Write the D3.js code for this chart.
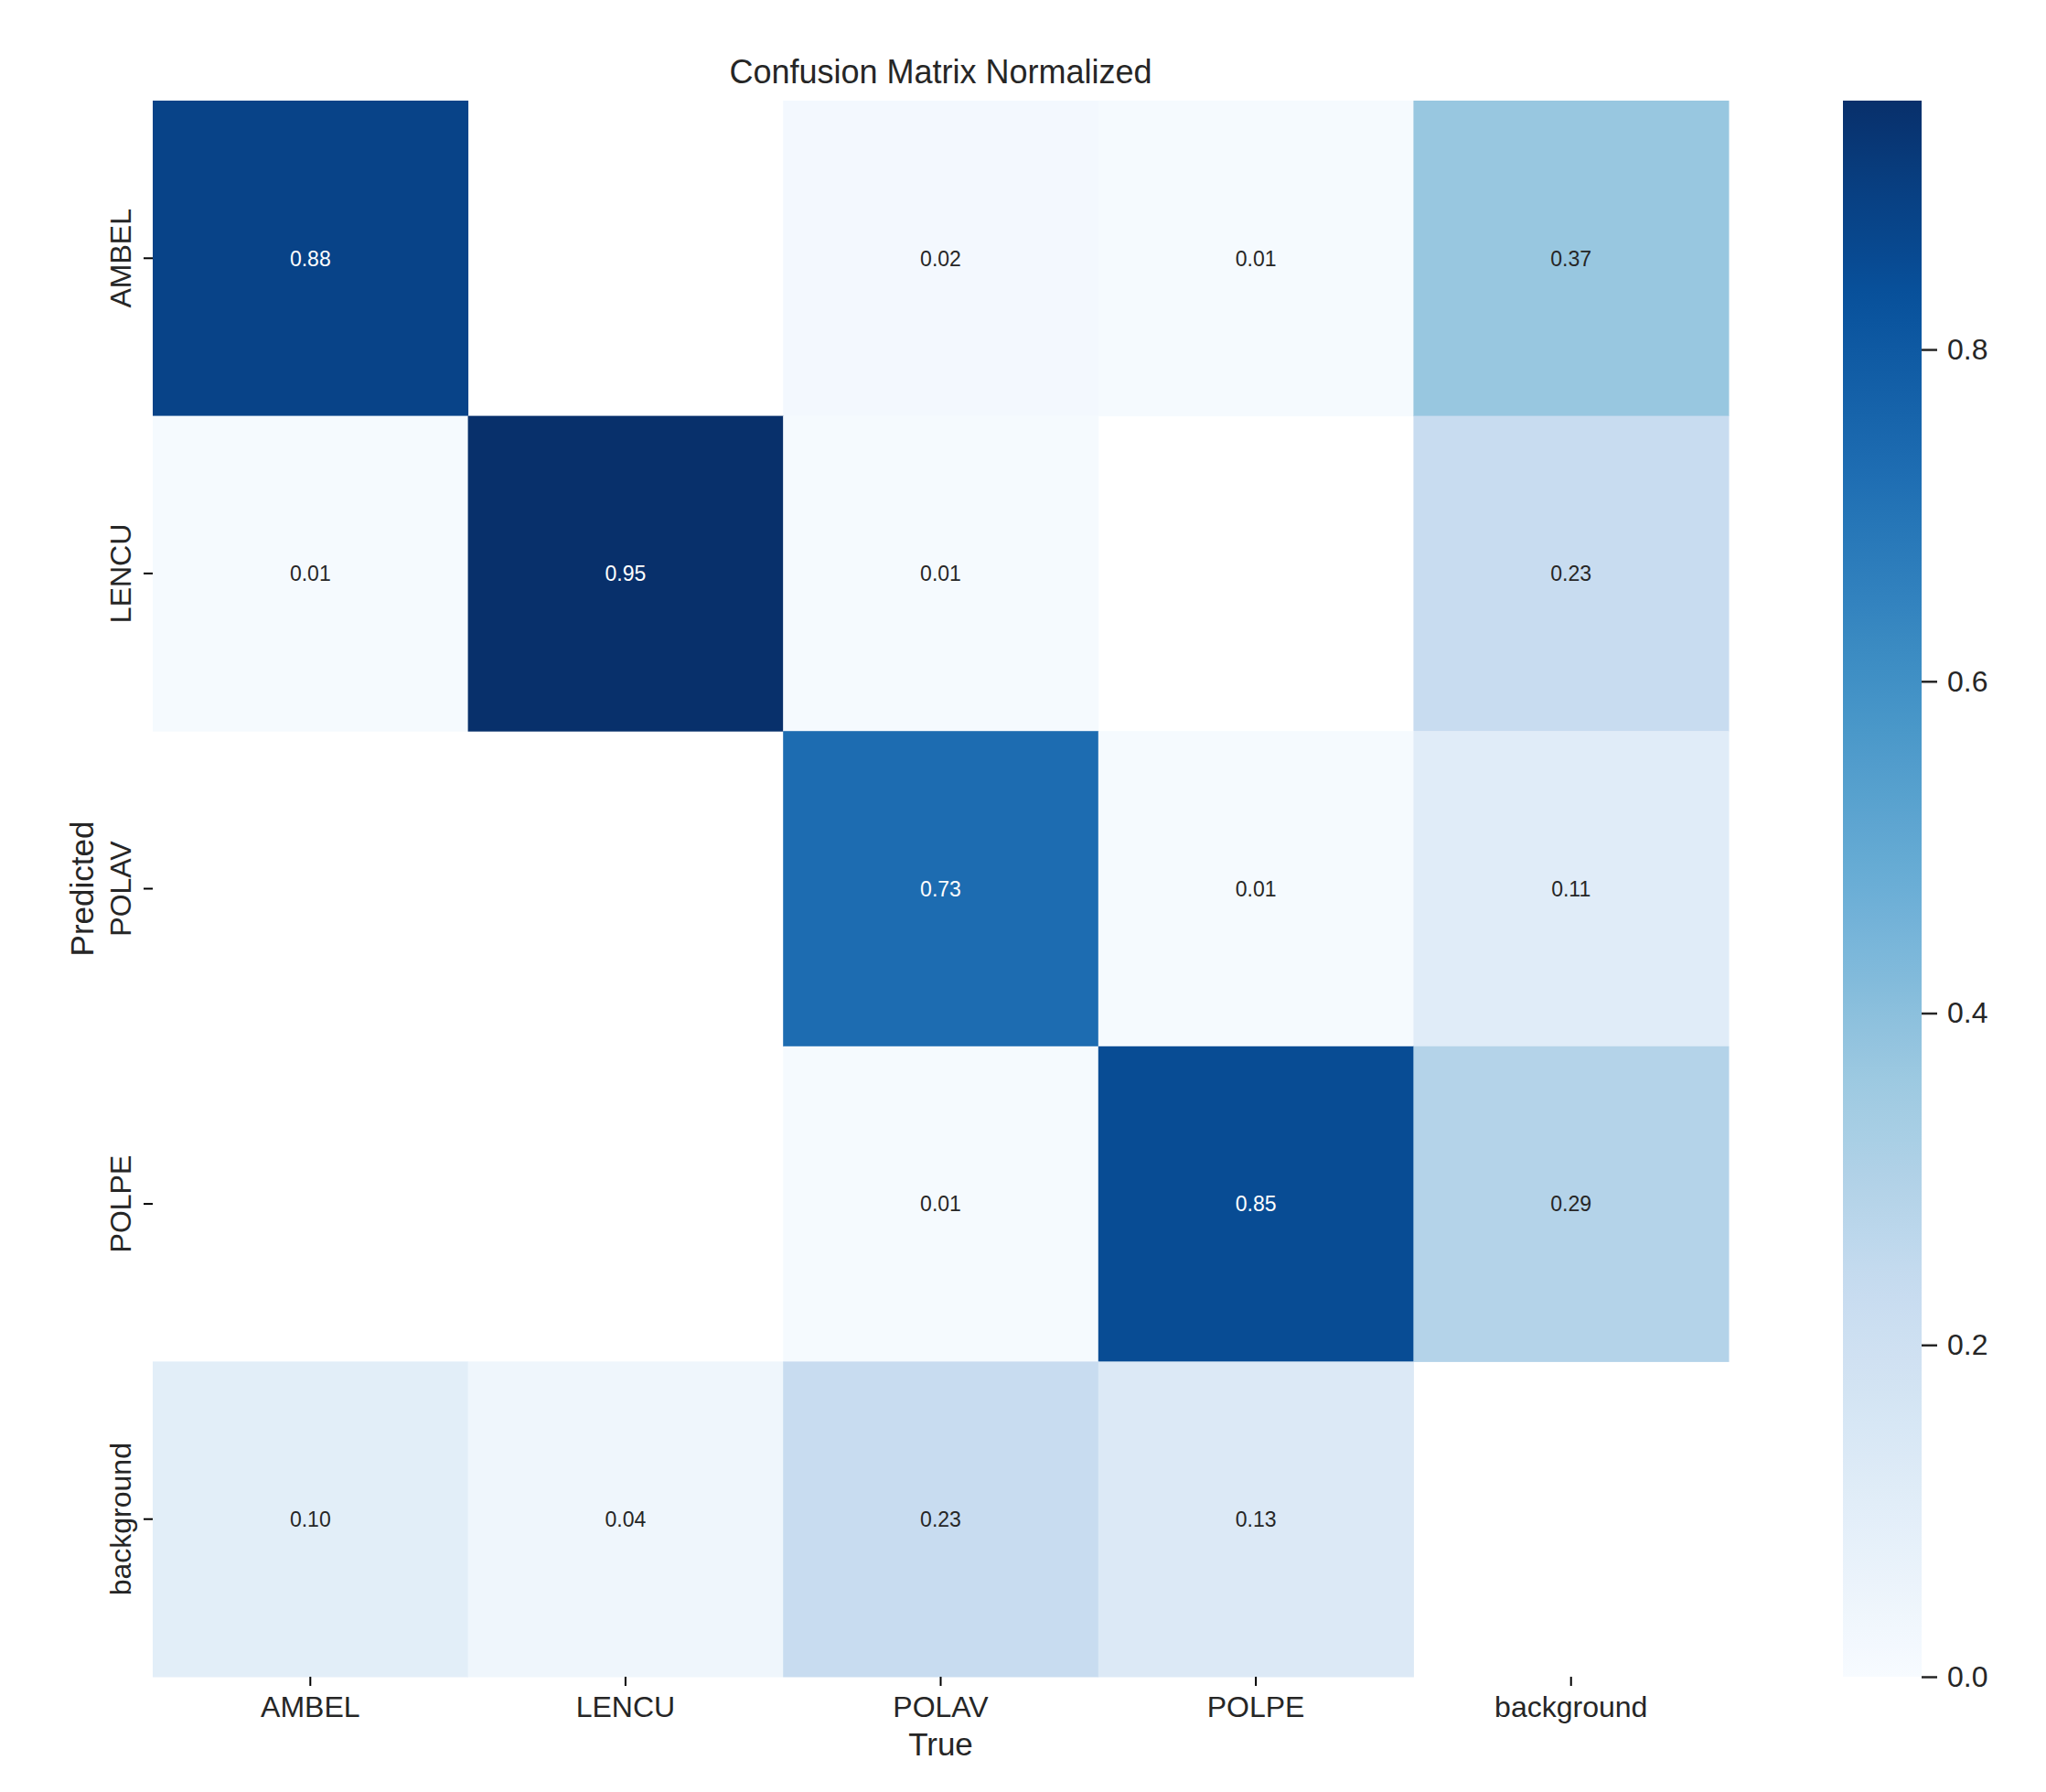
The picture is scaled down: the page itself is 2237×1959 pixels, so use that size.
<!DOCTYPE html>
<html>
<head>
<meta charset="utf-8">
<script src="https://cdnjs.cloudflare.com/ajax/libs/d3/7.8.5/d3.min.js"></script>
<style>
body { margin: 0; background: #fff; }
text { font-family: "Liberation Sans", Arial, sans-serif; fill: #262626; }
</style>
</head>
<body>
<div id="chart"></div>
<script>
var width = 2237;
var height = 1959;

// labels for both axes (rows = predicted, columns = true)
var classes = ["AMBEL", "LENCU", "POLAV", "POLPE", "background"];

// null = value below 0.005, left blank like the original
var rowAMBEL = [0.88, null, 0.02, 0.01, 0.37];
var rowLENCU = [0.01, 0.95, 0.01, null, 0.23];
var rowPOLAV = [null, null, 0.73, 0.01, 0.11];
var rowPOLPE = [null, null, 0.01, 0.85, 0.29];
var rowBackground = [0.10, 0.04, 0.23, 0.13, null];

var cbTicks = [0.0, 0.2, 0.4, 0.6, 0.8];

// matplotlib "Blues" anchor colours
var blues = ["#f7fbff", "#deebf7", "#c6dbef", "#9ecae1", "#6baed6",
             "#4292c6", "#2171b5", "#08519c", "#08306b"];

var matrix = [rowAMBEL, rowLENCU, rowPOLAV, rowPOLPE, rowBackground];

// note: "top" is taken by window.top, hence plotTop
var plotLeft = 167, plotTop = 110, side = 1723;

var svg = d3.select("#chart")
	.append("svg")
	.attr("width", width)
	.attr("height", height);

svg.append("rect").attr("width", width).attr("height", height).attr("fill", "#fff");

var x = d3.scaleBand().domain(classes).range([plotLeft, plotLeft + side]);
var y = d3.scaleBand().domain(classes).range([plotTop, plotTop + side]);

var vmax = d3.max(matrix, function(r){ return d3.max(r); });

var color = d3.scaleLinear()
	.domain(blues.map(function(c, i){ return vmax * i / (blues.length - 1); }))
	.range(blues)
	.clamp(true);

var cells = [];
matrix.forEach(function(row, i){
	row.forEach(function(v, j){
		if (v !== null) cells.push({ pred: classes[i], truth: classes[j], value: v });
	});
});

svg.selectAll(".cell")
	.data(cells)
	.enter()
	.append("rect")
	.attr("class", "cell")
	.attr("x", function(d){ return x(d.truth); })
	.attr("y", function(d){ return y(d.pred); })
	.attr("width", x.bandwidth() + 0.5)
	.attr("height", y.bandwidth() + 0.5)
	.attr("fill", function(d){ return color(d.value); });

// annotation: white on dark cells (seaborn luminance rule)
function lum(c){
	var rgb = d3.rgb(c);
	var ch = [rgb.r, rgb.g, rgb.b].map(function(v){
		v = v / 255;
		return v <= 0.03928 ? v / 12.92 : Math.pow((v + 0.055) / 1.055, 2.4);
	});
	return 0.2126 * ch[0] + 0.7152 * ch[1] + 0.0722 * ch[2];
}

svg.selectAll(".annot")
	.data(cells)
	.enter()
	.append("text")
	.attr("class", "annot")
	.attr("x", function(d){ return x(d.truth) + x.bandwidth() / 2; })
	.attr("y", function(d){ return y(d.pred) + y.bandwidth() / 2; })
	.attr("dy", "0.36em")
	.attr("text-anchor", "middle")
	.style("font-size", "23px")
	.style("fill", function(d){ return lum(color(d.value)) < 0.408 ? "#fff" : "#262626"; })
	.text(function(d){ return d.value.toFixed(2); });

// x axis
var xAxis = svg.append("g")
	.attr("transform", "translate(0," + (plotTop + side) + ")")
	.call(d3.axisBottom(x).tickSize(10).tickPadding(11));
xAxis.select(".domain").remove();
xAxis.selectAll("line").attr("stroke", "#000").attr("stroke-width", 2);
xAxis.selectAll("text").style("font-size", "32px").attr("fill", null);

// y axis, labels turned vertical
var yAxis = svg.append("g")
	.attr("transform", "translate(" + plotLeft + ",0)")
	.call(d3.axisLeft(y).tickSize(10));
yAxis.select(".domain").remove();
yAxis.selectAll("line").attr("stroke", "#000").attr("stroke-width", 2);
yAxis.selectAll("text")
	.attr("transform", "rotate(-90)")
	.attr("x", 0)
	.attr("y", -24)
	.attr("dy", 0)
	.attr("text-anchor", "middle")
	.attr("fill", null)
	.style("font-size", "32px");

svg.append("text")
	.attr("x", plotLeft + side / 2)
	.attr("y", 91)
	.attr("text-anchor", "middle")
	.style("font-size", "36px")
	.text("Confusion Matrix Normalized");

svg.append("text")
	.attr("x", plotLeft + side / 2)
	.attr("y", 1919)
	.attr("text-anchor", "middle")
	.style("font-size", "35px")
	.text("True");

svg.append("text")
	.attr("transform", "translate(102," + (plotTop + side / 2) + ") rotate(-90)")
	.attr("text-anchor", "middle")
	.style("font-size", "35px")
	.text("Predicted");

// colour bar
var cbX = 2015, cbW = 86;
var cbScale = d3.scaleLinear().domain([0, vmax]).range([plotTop + side, plotTop]);

var grad = svg.append("defs").append("linearGradient")
	.attr("id", "cbgrad")
	.attr("x1", 0).attr("y1", 1).attr("x2", 0).attr("y2", 0);
d3.range(0, 1.0001, 0.02).forEach(function(t){
	grad.append("stop")
		.attr("offset", t)
		.attr("stop-color", color(t * vmax));
});

svg.append("rect")
	.attr("x", cbX)
	.attr("y", plotTop)
	.attr("width", cbW)
	.attr("height", side)
	.attr("fill", "url(#cbgrad)");

var cbAxis = svg.append("g")
	.attr("transform", "translate(" + (cbX + cbW) + ",0)")
	.call(d3.axisRight(cbScale).tickValues(cbTicks).tickFormat(d3.format(".1f")).tickSize(17).tickPadding(11));
cbAxis.select(".domain").remove();
cbAxis.selectAll("line").attr("stroke", "#262626").attr("stroke-width", 2.5);
cbAxis.selectAll("text").style("font-size", "32px").attr("fill", null);
</script>
</body>
</html>
